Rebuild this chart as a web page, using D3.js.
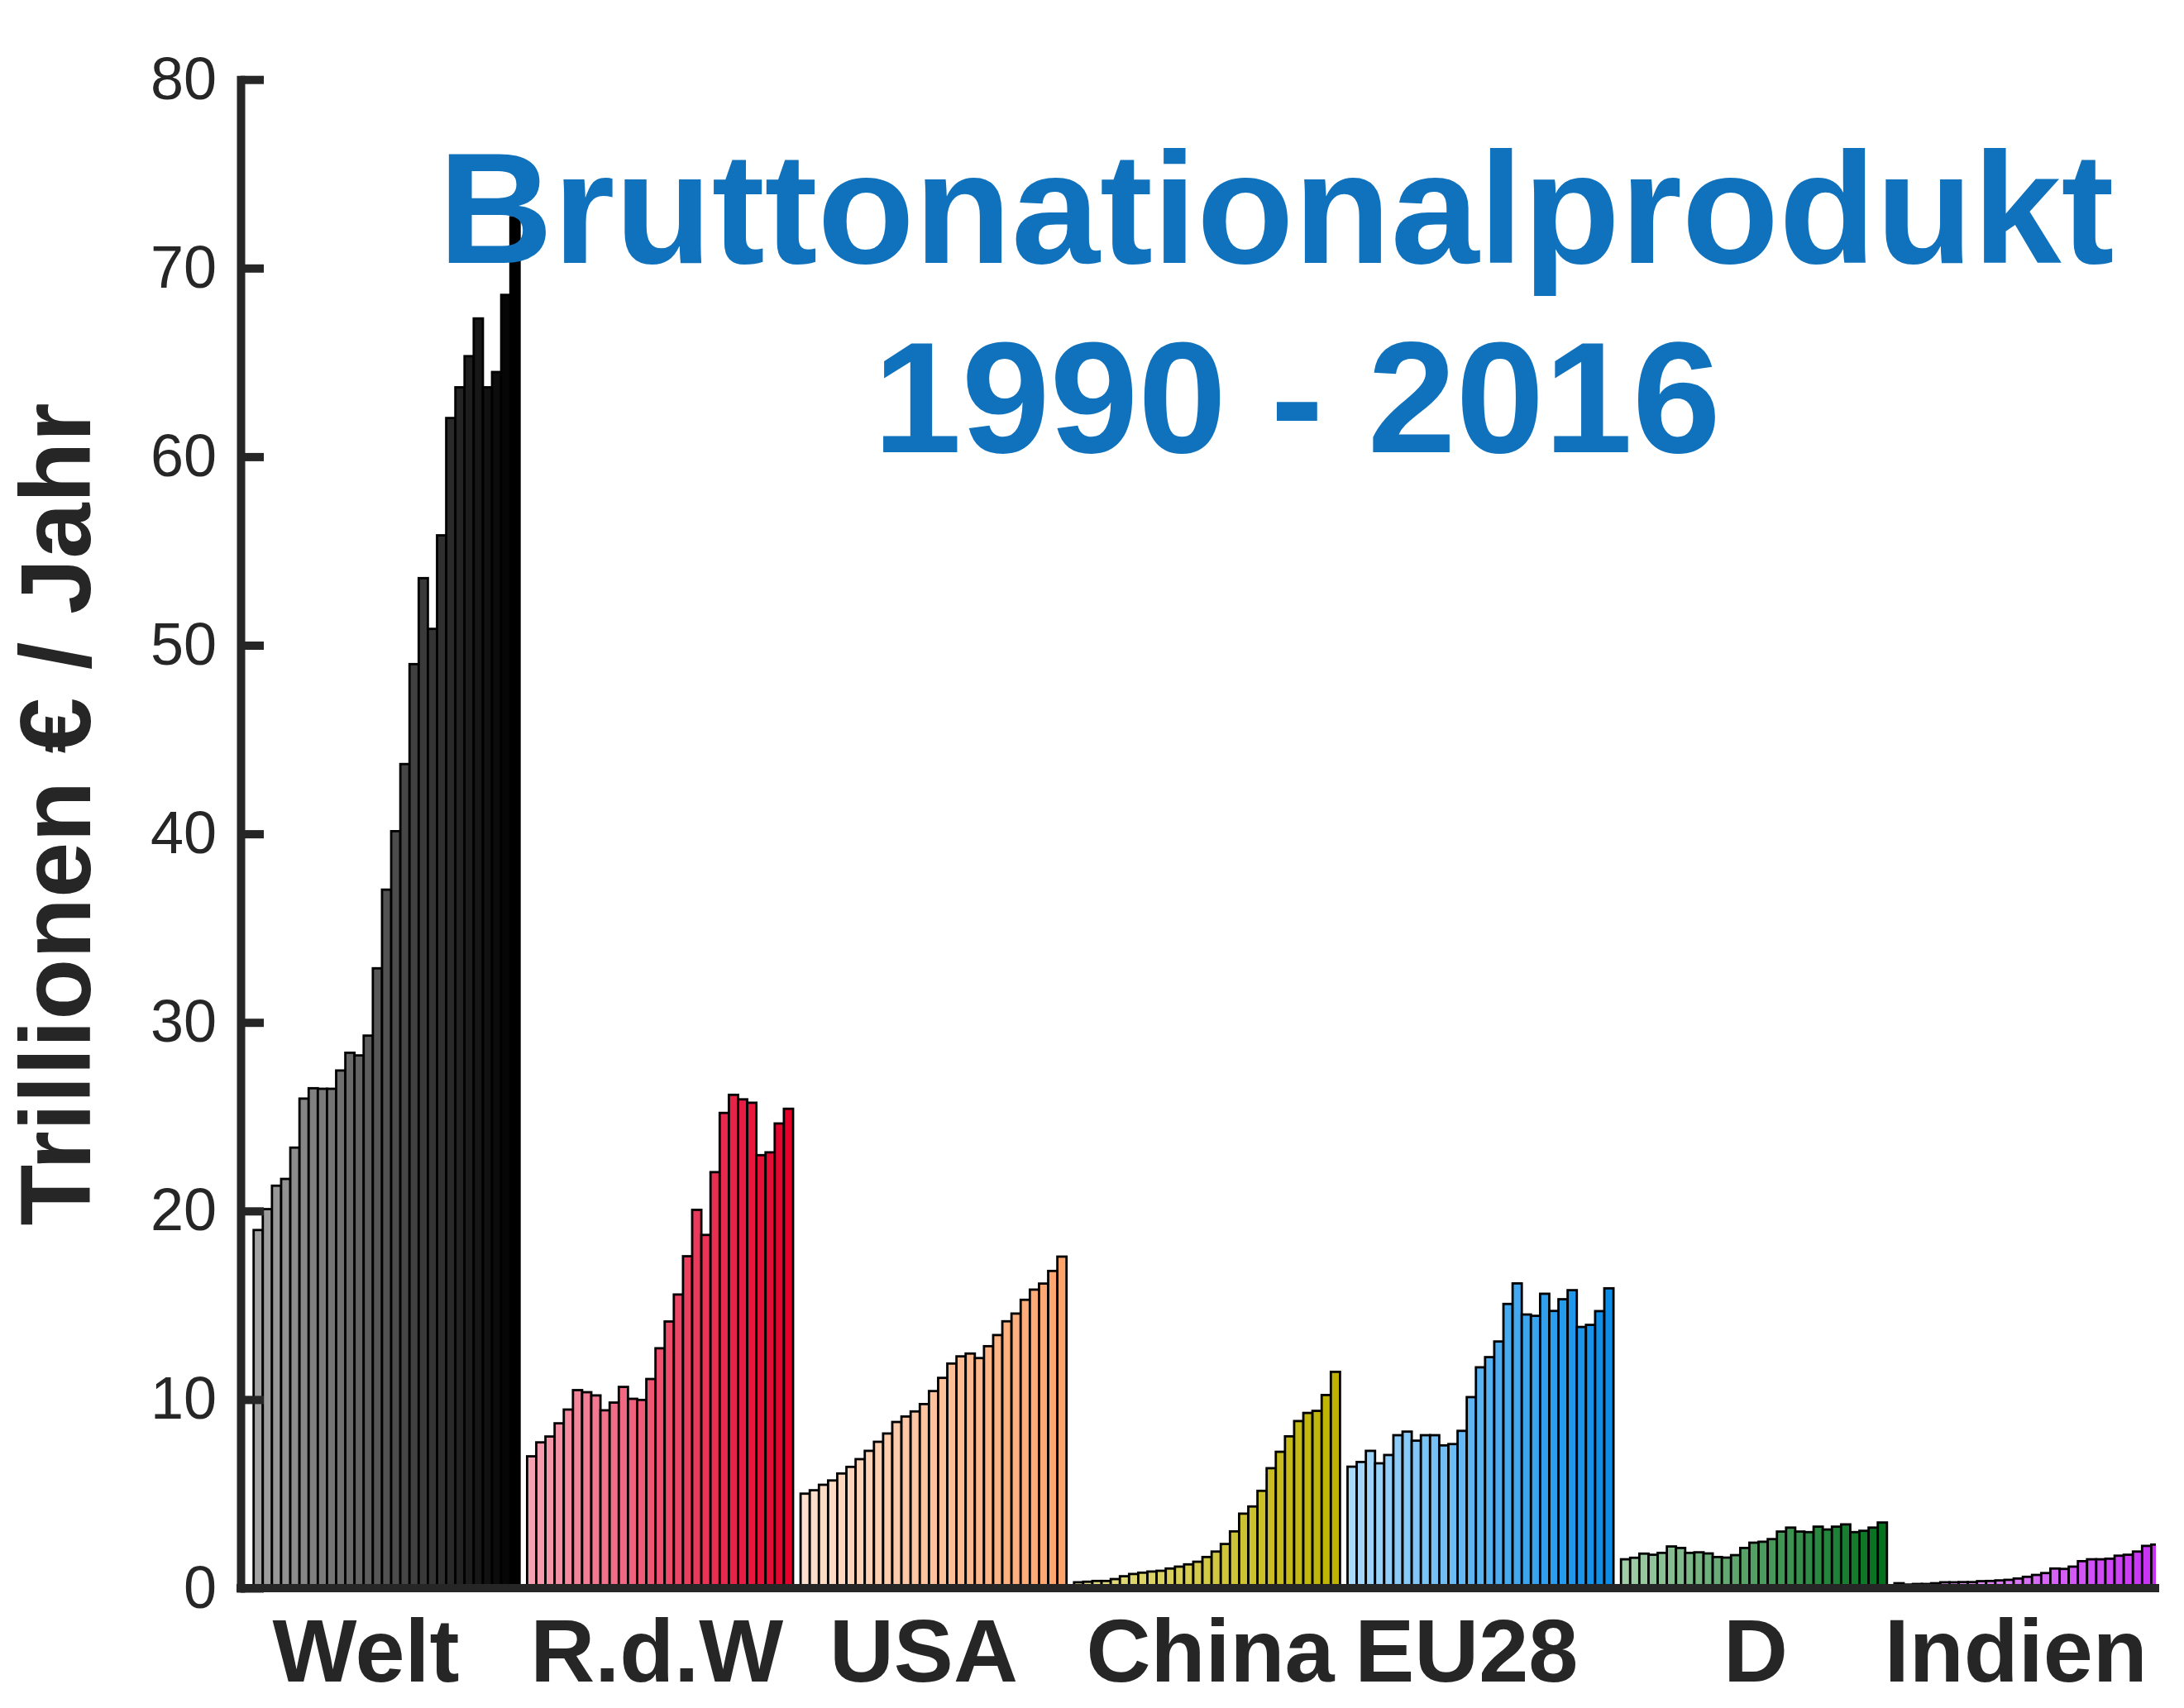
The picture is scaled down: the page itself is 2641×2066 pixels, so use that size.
<!DOCTYPE html>
<html>
<head>
<meta charset="utf-8">
<script src="https://d3js.org/d3.v7.min.js"></script>
<style>
  html, body { margin: 0; padding: 0; background: #ffffff; }
  svg { display: block; }
</style>
</head>
<body>
<svg id="chart" width="2641" height="2066"></svg>
<script>
// ---------------- DATA ----------------
const categories = ["Welt", "R.d.W", "USA", "China", "EU28", "D", "Indien"];

const welt   = [18.99, 20.10, 21.34, 21.70, 23.36, 25.96, 26.51, 26.48, 26.48, 27.45,
                28.39, 28.25, 29.30, 32.87, 37.04, 40.14, 43.70, 49.00, 53.56, 50.87,
                55.83, 62.05, 63.68, 65.33, 67.33, 63.68, 64.49, 68.58, 72.70];
const rdw    = [6.99, 7.73, 8.04, 8.74, 9.47, 10.50, 10.39, 10.22, 9.43, 9.84,
                10.67, 10.04, 9.98, 11.09, 12.72, 14.14, 15.57, 17.60, 20.06, 18.73,
                22.06, 25.20, 26.16, 25.92, 25.74, 22.96, 23.11, 24.64, 25.42];
const usa    = [5.01, 5.19, 5.48, 5.71, 6.08, 6.43, 6.84, 7.28, 7.76, 8.20,
                8.81, 9.10, 9.37, 9.76, 10.45, 11.15, 11.91, 12.29, 12.44, 12.20,
                12.83, 13.42, 14.15, 14.56, 15.29, 15.83, 16.15, 16.82, 17.58];
const china  = [0.31, 0.34, 0.38, 0.38, 0.48, 0.63, 0.75, 0.82, 0.88, 0.92,
                1.04, 1.14, 1.26, 1.40, 1.65, 1.94, 2.34, 3.01, 3.95, 4.33,
                5.16, 6.36, 7.23, 8.05, 8.86, 9.29, 9.40, 10.24, 11.47];
const eu28   = [6.44, 6.69, 7.28, 6.62, 7.06, 8.11, 8.30, 7.82, 8.11, 8.11,
                7.57, 7.64, 8.34, 10.13, 11.71, 12.25, 13.08, 15.07, 16.16, 14.51,
                14.44, 15.61, 14.70, 15.32, 15.80, 13.85, 13.96, 14.69, 15.90];
const germany = [1.53, 1.61, 1.83, 1.77, 1.87, 2.21, 2.13, 1.87, 1.90, 1.84,
                1.65, 1.62, 1.75, 2.13, 2.41, 2.46, 2.60, 3.00, 3.21, 3.00,
                2.97, 3.26, 3.11, 3.26, 3.38, 2.97, 3.04, 3.21, 3.48];
const india  = [0.26, 0.19, 0.22, 0.22, 0.26, 0.31, 0.31, 0.32, 0.32, 0.37,
                0.38, 0.41, 0.44, 0.51, 0.60, 0.70, 0.80, 1.04, 1.02, 1.14,
                1.43, 1.53, 1.53, 1.56, 1.72, 1.77, 1.94, 2.24, 2.31];

const seriesValues = [welt, rdw, usa, china, eu28, germany, india];

const yTicks = [0, 10, 20, 30, 40, 50, 60, 70, 80];
const titleLines = ["Bruttonationalprodukt", "1990 - 2016"];
const yLabel = "Trillionen € / Jahr";

// ---------------- STYLE / LAYOUT ----------------
const colorStart = ["#a3a3a3", "#f6a1b2", "#fde0cd", "#e5df8c", "#a9d9fb", "#a2cda9", "#eab0f7"];
const colorEnd   = ["#000000", "#e4002b", "#fda46b", "#bfb200", "#0a8ce8", "#03711e", "#c92ff5"];
const labelShift = [-25, -4, -12, 4, -17, 2, -14];

const FONT = "'Liberation Sans', Arial, Helvetica, sans-serif";
const AXIS_COLOR = "#262626";
const axisX = 291, plotRight = 2607, axisEnd = 2611;

const svg = d3.select("#chart");

const y = d3.scaleLinear().domain([0, 80]).range([1921, 96.2]);

const xGroup = d3.scaleBand()
  .domain(categories)
  .range([306.7, 2612.5])
  .paddingInner(0.0275)
  .paddingOuter(0);

const nBars = welt.length;
const xBar = d3.scaleBand()
  .domain(d3.range(nBars))
  .range([0, xGroup.bandwidth()])
  .padding(0);

// clip
svg.append("defs").append("clipPath").attr("id", "plotclip")
  .append("rect").attr("x", axisX).attr("y", 0)
  .attr("width", plotRight - axisX).attr("height", 1925);

// ---------------- BARS ----------------
const barsG = svg.append("g").attr("clip-path", "url(#plotclip)");
categories.forEach((cat, gi) => {
  const col = d3.interpolateRgb(colorStart[gi], colorEnd[gi]);
  const g = barsG.append("g").attr("transform", `translate(${xGroup(cat)},0)`);
  g.selectAll("rect")
    .data(seriesValues[gi])
    .join("rect")
    .attr("x", (d, i) => xBar(i))
    .attr("width", xBar.bandwidth())
    .attr("y", d => y(d))
    .attr("height", d => y(0) - y(d))
    .attr("fill", (d, i) => col(i / (nBars - 1)))
    .attr("stroke", "#000")
    .attr("stroke-width", 2.8);
});

// ---------------- AXES ----------------
const yAxis = d3.axisLeft(y)
  .tickValues(yTicks)
  .tickSize(-28)
  .tickSizeOuter(0)
  .tickPadding(29)
  .tickFormat(d3.format("d"));

const yAxisG = svg.append("g")
  .attr("transform", `translate(${axisX},0)`)
  .call(yAxis);
yAxisG.select(".domain")
  .attr("stroke", AXIS_COLOR).attr("stroke-width", 10)
  .attr("stroke-linecap", "square");
yAxisG.selectAll(".tick line")
  .attr("stroke", AXIS_COLOR).attr("stroke-width", 10);
yAxisG.selectAll(".tick text")
  .attr("fill", AXIS_COLOR)
  .style("font-family", FONT)
  .style("font-size", "72px");

// x axis baseline
svg.append("line")
  .attr("x1", axisX - 5).attr("x2", axisEnd)
  .attr("y1", y(0)).attr("y2", y(0))
  .attr("stroke", AXIS_COLOR).attr("stroke-width", 10);

// category labels
svg.append("g").selectAll("text")
  .data(categories)
  .join("text")
  .attr("x", (d, i) => xGroup(d) + xGroup.bandwidth() / 2 + labelShift[i])
  .attr("y", 2034)
  .attr("text-anchor", "middle")
  .attr("fill", AXIS_COLOR)
  .style("font-family", FONT)
  .style("font-weight", "bold")
  .style("font-size", "108px")
  .text(d => d);

// y label
svg.append("text")
  .attr("transform", "translate(109,985) rotate(-90)")
  .attr("text-anchor", "middle")
  .attr("fill", AXIS_COLOR)
  .style("font-family", FONT)
  .style("font-weight", "bold")
  .style("font-size", "121px")
  .text(yLabel);

// title
const titleG = svg.append("g")
  .attr("fill", "#1072bc")
  .style("font-family", FONT)
  .style("font-weight", "bold")
  .style("font-size", "192px");
titleG.append("text").attr("x", 530).attr("y", 318).text(titleLines[0]);
titleG.append("text").attr("x", 1056).attr("y", 547).text(titleLines[1]);
</script>
</body>
</html>
